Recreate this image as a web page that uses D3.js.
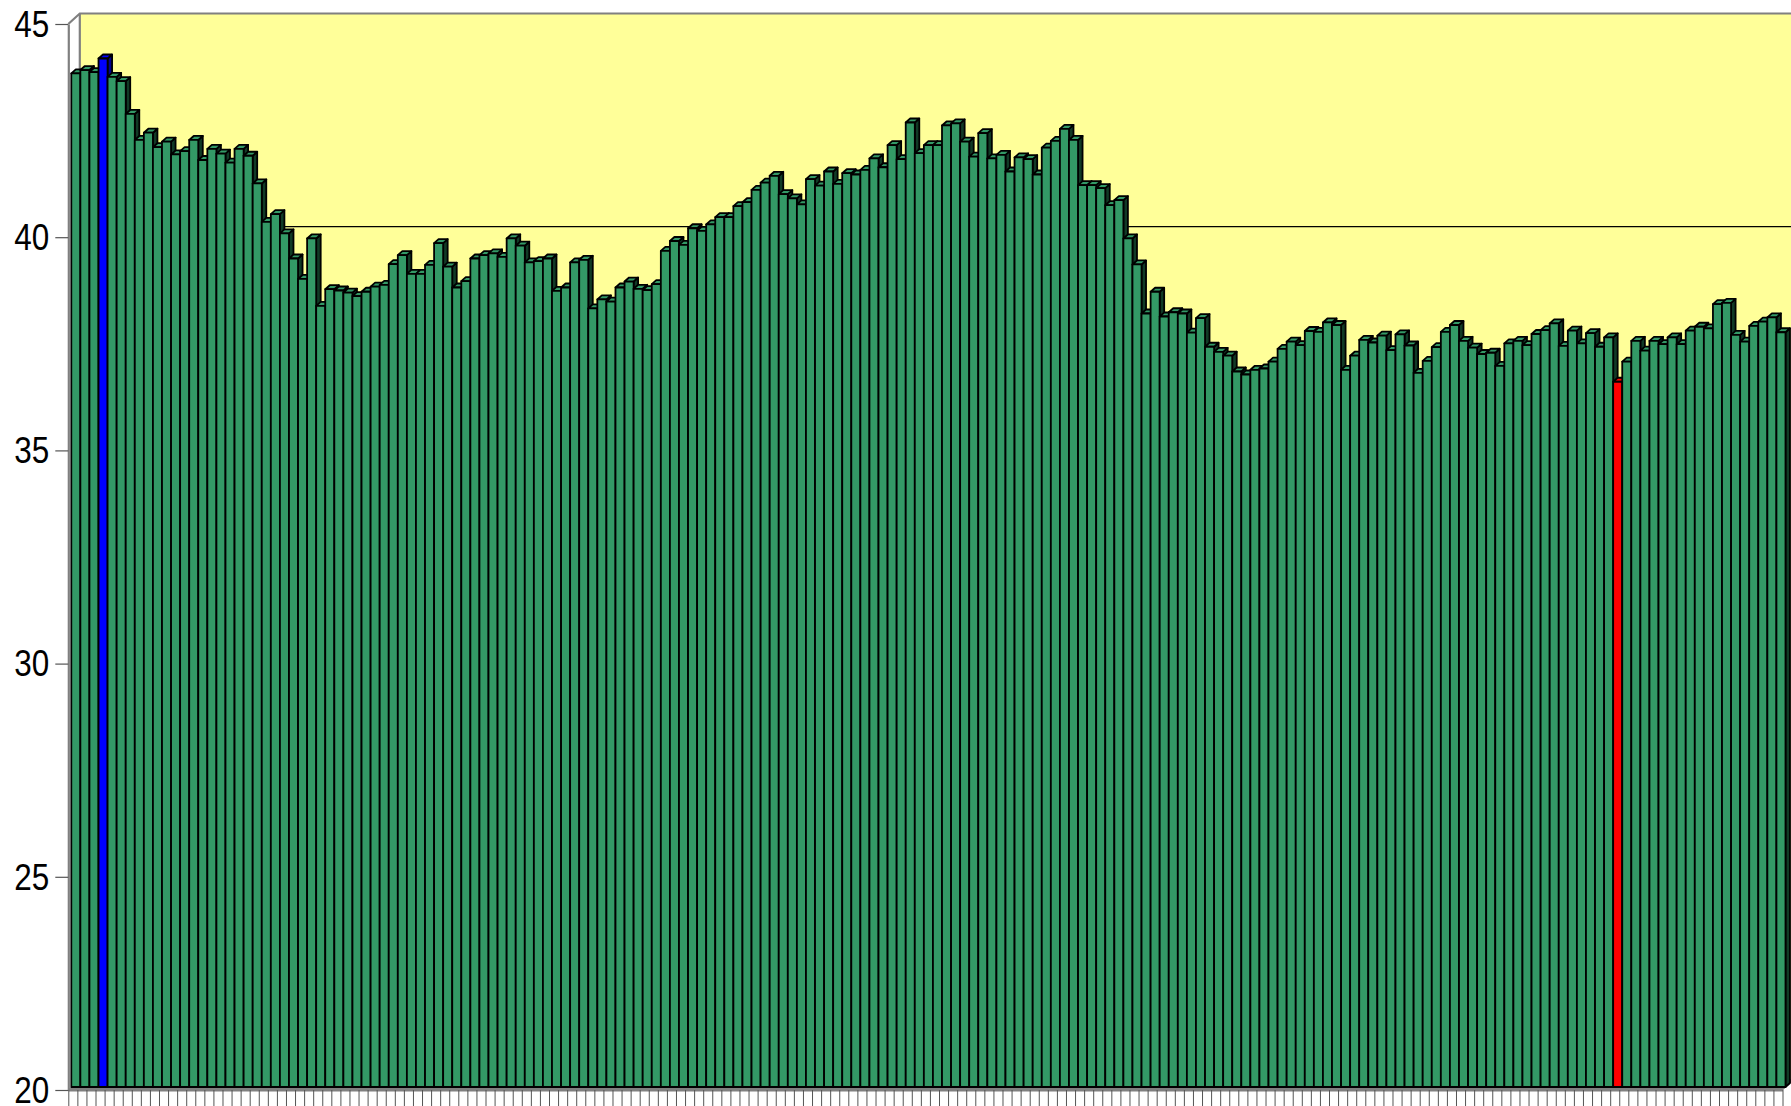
<!DOCTYPE html>
<html>
<head>
<meta charset="utf-8">
<script src="https://cdn.jsdelivr.net/npm/d3@7"></script>
<style>
  body { margin: 0; background: #fff; }
  .y-axis text { font-family: "Liberation Sans Narrow", "Arial Narrow", "Liberation Sans", sans-serif; font-size: 37px; fill: #000; }
</style>
</head>
<body>
<div id="chart"></div>
<script>
// values, one per column (left to right)
var values = [
  43.77, 43.85, 43.80, 44.12, 43.69, 43.59, 42.82, 42.21, 42.38, 42.04,
  42.17, 41.87, 41.95, 42.21, 41.74, 42.00, 41.89, 41.68, 42.00, 41.84,
  41.19, 40.29, 40.47, 40.02, 39.43, 38.95, 39.90, 38.32, 38.71, 38.68,
  38.63, 38.55, 38.65, 38.77, 38.81, 39.30, 39.51, 39.07, 39.07, 39.28,
  39.79, 39.24, 38.75, 38.90, 39.43, 39.51, 39.55, 39.47, 39.90, 39.73,
  39.34, 39.37, 39.43, 38.67, 38.75, 39.34, 39.40, 38.26, 38.47, 38.42,
  38.75, 38.89, 38.72, 38.69, 38.83, 39.61, 39.84, 39.75, 40.14, 40.08,
  40.23, 40.40, 40.40, 40.66, 40.75, 41.04, 41.21, 41.37, 40.94, 40.84,
  40.70, 41.29, 41.14, 41.47, 41.18, 41.43, 41.40, 41.51, 41.78, 41.57,
  42.09, 41.76, 42.62, 41.90, 42.09, 42.09, 42.55, 42.60, 42.17, 41.82,
  42.37, 41.78, 41.86, 41.47, 41.80, 41.76, 41.40, 42.03, 42.19, 42.47,
  42.21, 41.15, 41.15, 41.08, 40.68, 40.80, 39.90, 39.29, 38.14, 38.65,
  38.07, 38.17, 38.14, 37.69, 38.03, 37.36, 37.24, 37.15, 36.78, 36.71,
  36.82, 36.85, 37.01, 37.31, 37.48, 37.40, 37.73, 37.71, 37.93, 37.87,
  36.82, 37.15, 37.52, 37.46, 37.62, 37.28, 37.65, 37.39, 36.75, 37.03,
  37.35, 37.71, 37.87, 37.50, 37.34, 37.19, 37.22, 36.91, 37.44, 37.50,
  37.40, 37.66, 37.75, 37.91, 37.38, 37.74, 37.44, 37.68, 37.36, 37.58,
  36.54, 37.01, 37.50, 37.27, 37.50, 37.42, 37.58, 37.42, 37.74, 37.83,
  37.79, 38.36, 38.39, 37.64, 37.48, 37.85, 37.95, 38.05, 37.70
];

// categories have no labels, just positions
var categories = values.map(function(d, i) { return i; });

// y axis ticks
var yTickValues = [20, 25, 30, 35, 40, 45];
var yDomain = [20, 45];
var gridValues = [40];

// the two highlighted columns
var blueIndex = 3;
var redIndex = 170;

// set up svg attributes
var svgWidth = 1791;
var svgHeight = 1106;

// front plane of the 3d box
var front = { left: 68.3, right: 1782.5, top: 24, bottom: 1090 };
// back wall offset, bar offset inside the box, bar depth
var wall = { dx: 11.5, dy: 10.5 };
var shift = { dx: 3, dy: 3 };
var depth = { dx: 4.5, dy: 4 };

// narrow look for the tick labels
var labelSqueeze = 0.85;

var colors = {
  wall: "#ffff99",
  frame: "#808080",
  bar: "#339966", barSide: "#113a26",
  blue: "#0000ff", blueSide: "#000090",
  red: "#ff0000", redSide: "#900000"
};

var svg = d3.select("#chart")
  .append("svg")
  .attr("width", svgWidth)
  .attr("height", svgHeight);

var xBand = d3.scaleBand()
  .domain(categories)
  .range([front.left, front.right])
  .padding(0);

var xTicks = d3.scaleLinear()
  .domain([0, categories.length])
  .range([front.left, front.right]);

var yScale = d3.scaleLinear()
  .domain(yDomain)
  .range([front.bottom, front.top]);

var yTopBack = yScale(yDomain[1]) - wall.dy;
var yBotBack = yScale(yDomain[0]) - wall.dy;

// back wall
svg.append("rect")
  .attr("x", front.left + wall.dx)
  .attr("y", yTopBack)
  .attr("width", svgWidth)
  .attr("height", yBotBack - yTopBack)
  .attr("fill", colors.wall);

// side wall (left, unfilled)
svg.append("polygon")
  .attr("points", [
    [front.left, yScale(yDomain[1])],
    [front.left + wall.dx, yTopBack],
    [front.left + wall.dx, yBotBack],
    [front.left, yScale(yDomain[0])]
  ].join(" "))
  .attr("fill", "#fff");

// gridlines on back wall
svg.selectAll(".grid")
  .data(gridValues)
  .enter()
  .append("line")
  .attr("x1", front.left + wall.dx)
  .attr("x2", svgWidth)
  .attr("y1", d => yScale(d) - wall.dy)
  .attr("y2", d => yScale(d) - wall.dy)
  .attr("stroke", "#000")
  .attr("stroke-width", 1.2);

// wall edges
svg.append("path")
  .attr("d", "M" + front.left + "," + yScale(yDomain[1]) +
    "L" + (front.left + wall.dx) + "," + yTopBack +
    "L" + svgWidth + "," + yTopBack +
    "M" + (front.left + wall.dx) + "," + yTopBack +
    "L" + (front.left + wall.dx) + "," + yBotBack)
  .attr("fill", "none")
  .attr("stroke", colors.frame)
  .attr("stroke-width", 2.2);

// floor
svg.append("polygon")
  .attr("points", [
    [front.left, front.bottom],
    [front.right, front.bottom],
    [front.right + wall.dx, front.bottom - wall.dy],
    [front.left + wall.dx, front.bottom - wall.dy]
  ].join(" "))
  .attr("fill", colors.frame)
  .attr("stroke", colors.frame);

// bars, drawn left to right so the next front face hides the side
var bw = xBand.bandwidth();
var yBase = yScale(yDomain[0]) - shift.dy;

var barGroups = svg.selectAll(".bar")
  .data(values)
  .enter()
  .append("g")
  .attr("class", "bar")
  .attr("stroke", "#000")
  .attr("stroke-width", 1.8)
  .attr("stroke-linejoin", "round");

function faceColor(i) {
  if (i === blueIndex) return colors.blue;
  if (i === redIndex) return colors.red;
  return colors.bar;
}
function sideColor(i) {
  if (i === blueIndex) return colors.blueSide;
  if (i === redIndex) return colors.redSide;
  return colors.barSide;
}

barGroups.append("polygon")
  .attr("fill", (d, i) => sideColor(i))
  .attr("points", function(d, i) {
    var x1 = xBand(i) + shift.dx + bw;
    var yt = yScale(d) - shift.dy;
    return [[x1, yt], [x1 + depth.dx, yt - depth.dy], [x1 + depth.dx, yBase - depth.dy], [x1, yBase]].join(" ");
  });

barGroups.append("polygon")
  .attr("fill", (d, i) => faceColor(i))
  .attr("points", function(d, i) {
    var x0 = xBand(i) + shift.dx;
    var yt = yScale(d) - shift.dy;
    return [[x0, yt], [x0 + bw, yt], [x0 + bw + depth.dx, yt - depth.dy], [x0 + depth.dx, yt - depth.dy]].join(" ");
  });

barGroups.append("rect")
  .attr("fill", (d, i) => faceColor(i))
  .attr("x", (d, i) => xBand(i) + shift.dx)
  .attr("y", d => yScale(d) - shift.dy)
  .attr("width", bw)
  .attr("height", d => yBase - (yScale(d) - shift.dy));

// y axis on the front plane
var leftAxis = d3.axisLeft(yScale)
  .tickValues(yTickValues)
  .tickSize(13)
  .tickSizeOuter(0)
  .tickPadding(5)
  .tickFormat(d3.format("d"));

var yAxis = svg.append("g")
  .attr("class", "y-axis")
  .attr("transform", `translate(${front.left}, 0)`)
  .call(leftAxis);

yAxis.select(".domain").attr("stroke", colors.frame).attr("stroke-width", 2.2);
yAxis.selectAll(".tick line").attr("stroke", "#555").attr("stroke-width", 1.2);
yAxis.selectAll(".tick text")
  .attr("x", -19 / labelSqueeze)
  .attr("dy", "0.33em")
  .attr("transform", `scale(${labelSqueeze}, 1)`);

// x axis: a tick between each column, no labels
var bottomAxis = d3.axisBottom(xTicks)
  .tickValues(d3.range(categories.length + 1))
  .tickSize(18)
  .tickSizeOuter(0)
  .tickFormat("");

var xAxis = svg.append("g")
  .attr("class", "x-axis")
  .attr("transform", `translate(0, ${front.bottom})`)
  .call(bottomAxis);

xAxis.select(".domain").attr("stroke", colors.frame).attr("stroke-width", 2.2);
xAxis.selectAll(".tick line").attr("stroke", "#555").attr("stroke-width", 1);
</script>
</body>
</html>
